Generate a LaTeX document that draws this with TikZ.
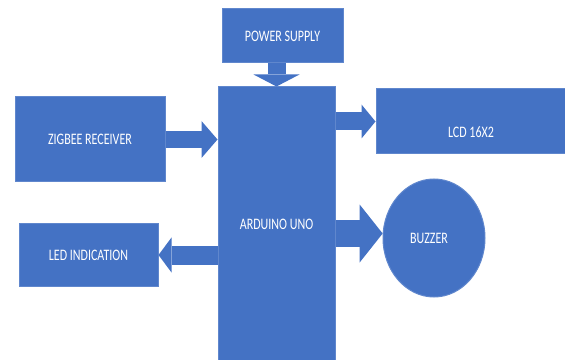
\documentclass[tikz,border=0pt]{standalone}
\usepackage{graphicx}
\usepackage{fontspec}
\setmainfont{Carlito}
\usetikzlibrary{arrows.meta,shapes.geometric}
\definecolor{boxblue}{RGB}{68,114,196}
\newcommand{\sqz}[1]{\scalebox{0.75}[1]{#1}}
\tikzset{every picture/.style={line width=0.75pt}}
\tikzset{
  blockbox/.style={draw=boxblue!85!white, fill=boxblue, text=white, inner sep=0pt, font=\fontsize{12}{14}\selectfont},
  blockarrow/.style={draw=boxblue, line width=#1},
}

\begin{document}
\begin{tikzpicture}[x=0.75pt,y=0.75pt,yscale=-1,xscale=1]
	\useasboundingbox (0,0) rectangle (565,360);

	%Shape: Rectangle [id:pwr] 
	\node[blockbox, minimum width=90.75pt, minimum height=40.5pt] (pwr) at (282.5,36) {\sqz{POWER SUPPLY}};
	%Shape: Rectangle [id:ard] 
	\node[blockbox, minimum width=87.75pt, minimum height=206.25pt] (ard) at (276.5,224.5) {\sqz{ARDUINO UNO}};
	%Shape: Rectangle [id:zig] 
	\node[blockbox, minimum width=112.5pt, minimum height=63.75pt] (zig) at (90,139.5) {\sqz{ZIGBEE RECEIVER}};
	%Shape: Rectangle [id:lcd] 
	\node[blockbox, minimum width=142.5pt, minimum height=48.75pt] (lcd) at (471,121.5) {\raisebox{-7.9pt}[\height][\depth]{\sqz{LCD 16X2}}};
	%Shape: Ellipse [id:buz] 
	\node[blockbox, ellipse, minimum width=76.5pt, minimum height=88.5pt] (buz) at (434,238) {\sqz{BUZZER}\hspace*{7.5pt}};
	%Shape: Rectangle [id:led] 
	\node[blockbox, minimum width=104.25pt, minimum height=46.5pt] (led) at (88.5,255) {\sqz{LED INDICATION}};

	%Down Arrow [id:pwr-ard] 
	\draw[blockarrow=13.5pt, -{Triangle[width=34.5pt,length=9pt,line width=0pt]}] (pwr.south -| ard.north) -- (ard.north);
	%Right Arrow [id:zig-ard] 
	\draw[blockarrow=12.75pt, -{Triangle[width=27.75pt,length=12pt,line width=0pt]}] (zig.east) -- (zig.east -| ard.west);
	%Right Arrow [id:ard-lcd] 
	\draw[blockarrow=13.5pt, -{Triangle[width=25.5pt,length=10.5pt,line width=0pt]}] (ard.east |- lcd.west) -- (lcd.west);
	%Right Arrow [id:ard-buz] 
	\draw[blockarrow=20.25pt, -{Triangle[width=43.5pt,length=17.25pt,line width=0pt]}] (ard.east |- buz.175) -- (buz.175);
	%Left Arrow [id:ard-led] 
	\draw[blockarrow=14.25pt, -{Triangle[width=26.25pt,length=9.75pt,line width=0pt]}] (ard.west |- led.east) -- (led.east);

\end{tikzpicture}
\end{document}
